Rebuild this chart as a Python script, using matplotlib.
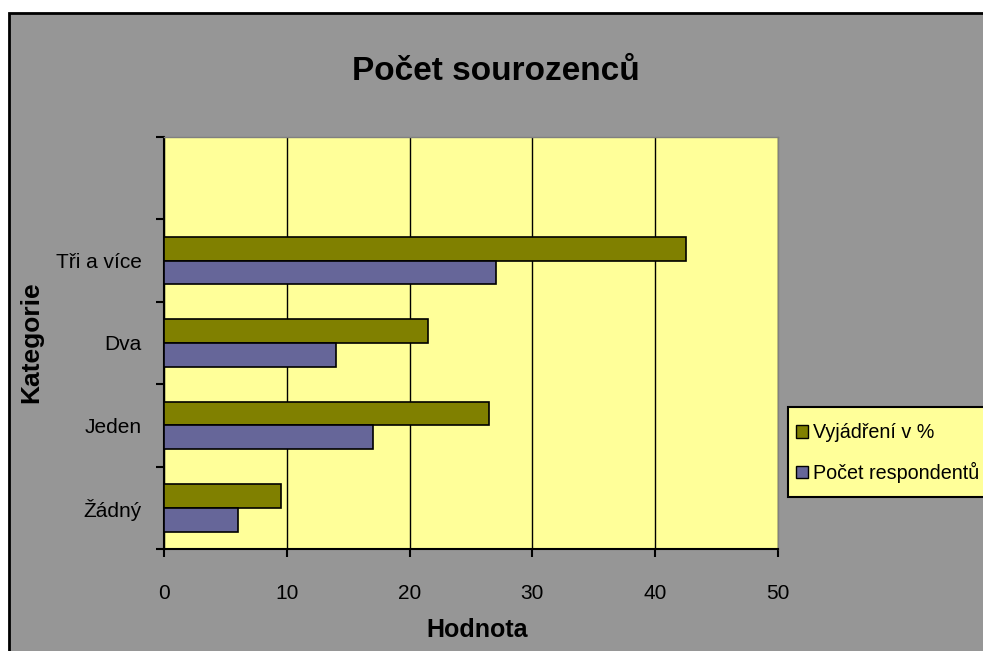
import matplotlib
matplotlib.use("Agg")
import matplotlib.pyplot as plt
import numpy as np
from matplotlib.patches import Rectangle, Patch

# data
categories = ["Žádný", "Jeden", "Dva", "Tři a více"]
procenta = [9.5, 26.5, 21.5, 42.5]
respondenti = [6, 17, 14, 27]
series_names = ["Vyjádření v %", "Počet respondentů"]
xticks = [0, 10, 20, 30, 40, 50]

plt.rcParams["font.family"] = ["Liberation Sans", "DejaVu Sans"]

W, H = 983, 651
fig = plt.figure(figsize=(W / 100, H / 100), dpi=100)
fig.patch.set_facecolor("white")

# grey chart area with black frame
fig.patches.append(Rectangle((9 / W, -0.1), 1.2, 1 - 13 / H + 0.1,
                             transform=fig.transFigure, facecolor="#969696",
                             edgecolor="black", linewidth=2, zorder=-5))

ax = fig.add_axes([164 / W, 1 - 549 / H, (778 - 164) / W, (549 - 137) / H])
ax.set_facecolor("#FFFF99")

green = "#808000"
purple = "#666699"
y = np.arange(len(categories))
h = 0.29
ax.barh(y + h / 2, procenta, height=h, color=green, edgecolor="black", linewidth=1.2, zorder=3)
ax.barh(y - h / 2, respondenti, height=h, color=purple, edgecolor="black", linewidth=1.2, zorder=3)

ax.set_xlim(0, 50)
ax.set_ylim(-0.5, len(categories) + 0.5)
ax.set_xticks(xticks)
ax.set_xticklabels([str(t) for t in xticks], fontsize=15)
ax.xaxis.grid(True, color="black", linewidth=1)
ax.set_axisbelow(True)

# ticks on category boundaries, labels in the middle (Excel style)
ax.set_yticks(np.arange(-0.5, len(categories) + 1, 1))
ax.set_yticklabels([])
ax.set_yticks(y, minor=True)
ax.set_yticklabels(categories, minor=True, fontsize=15)
ax.tick_params(axis="y", which="minor", length=0, pad=16)
ax.tick_params(axis="y", which="major", length=6, width=1.5, direction="out")
ax.tick_params(axis="x", length=6, width=1.5, direction="out", pad=19)

for s in ["top", "right"]:
    ax.spines[s].set_color("#808080")
    ax.spines[s].set_linewidth(1)
ax.spines["left"].set_linewidth(1.5)
ax.spines["bottom"].set_linewidth(1.5)

fig.text(477 / W, 1 - 630 / H, "Hodnota", ha="center", va="center",
         fontsize=18, fontweight="bold")
fig.text(31 / W, 1 - 342 / H, "Kategorie", ha="center", va="center",
         rotation=90, fontsize=19, fontweight="bold")
fig.text(496 / W, 1 - 72 / H, "Počet sourozenců", ha="center", va="center",
         fontsize=24, fontweight="bold")

# legend box (runs past the right edge like in the original)
fig.patches.append(Rectangle((788 / W, 1 - 497 / H), 0.3, 90 / H,
                             transform=fig.transFigure, facecolor="#FFFF99",
                             edgecolor="black", linewidth=1.5, zorder=1))
handles = [Patch(facecolor=green, edgecolor="black"),
           Patch(facecolor=purple, edgecolor="black")]
leg = fig.legend(handles, series_names, loc="center left",
                 bbox_to_anchor=(796 / W, 1 - 453 / H), fontsize=14.2,
                 frameon=False, handlelength=0.62, handleheight=0.62,
                 handletextpad=0.25, borderpad=0, labelspacing=1.0,
                 borderaxespad=0)
leg.set_zorder(2)

fig.savefig("out.png", dpi=100)
